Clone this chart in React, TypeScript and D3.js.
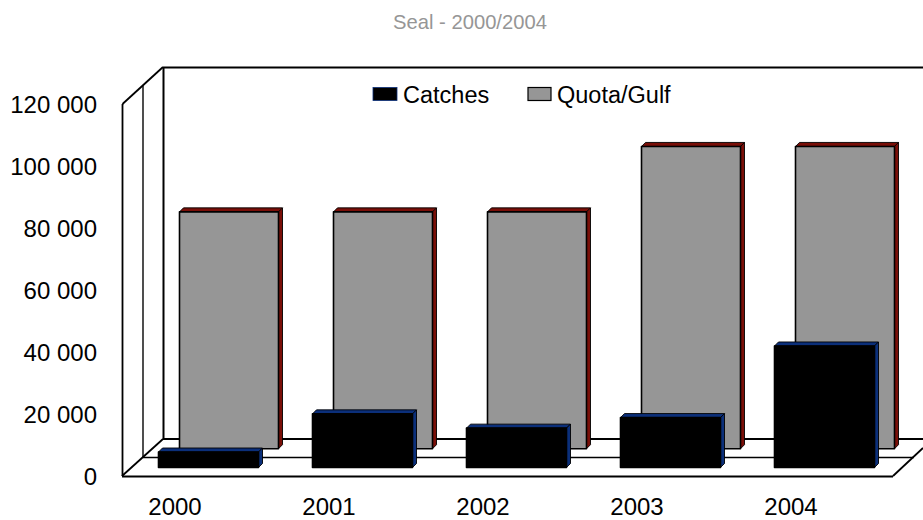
import React from "react";
import * as d3 from "d3";

const years = ["2000", "2001", "2002", "2003", "2004"];
const catches = [5000, 17300, 12700, 16100, 39200];
const quota = [76400, 76400, 76400, 97500, 97500];
const yTicks = [0, 20000, 40000, 60000, 80000, 100000, 120000];
const tickLabels = ["0", "20 000", "40 000", "60 000", "80 000", "100 000", "120 000"];

const W = 923, H = 520;
const frontBase = 476, frontTop = 104;
const y = d3.scaleLinear().domain([0, 120000]).range([frontBase, frontTop]);
const h = (v: number) => frontBase - y(v);
const xBand = d3.scaleBand<string>().domain(years).range([158.5, 928.5]).paddingInner(0).paddingOuter(0);
const catchW = 100, quotaW = 99, quotaOffset = 21;
const catchBase = 467.5, quotaBase = 448.7, d = 4;
const font = "'Liberation Sans', Arial, sans-serif";

function Bar({ x, base, height, width, fill, side }: { x: number; base: number; height: number; width: number; fill: string; side: string }) {
  const top = base - height;
  return (
    <g stroke="#000" strokeLinejoin="round">
      <path d={`M${x},${top} l${d},${-d} h${width} l${-d},${d} Z`} fill={side} strokeWidth={0.9} />
      <path d={`M${x + width},${top} l${d},${-d} V${base - d} l${-d},${d} Z`} fill={side} strokeWidth={0.9} />
      <rect x={x} y={top} width={width} height={height} fill={fill} strokeWidth={1.6} />
    </g>
  );
}

export default function App() {
  return (
    <svg width={W} height={H} style={{ position: "absolute", left: 0, top: 0, background: "#fff" }} fontFamily={font}>
      <text x={470} y={29} fontSize={20.2} fill="#969696" textAnchor="middle">Seal - 2000/2004</text>
      <g fill="none" stroke="#000">
        <path d="M163,67.5 H923" strokeWidth={2} />
        <path d="M163.5,67 V439" strokeWidth={2} />
        <path d="M122.5,104 V476" strokeWidth={1.8} />
        <path d="M143,85.5 V458" strokeWidth={1.6} stroke="#222" />
        <path d="M122.5,104 L163,67" strokeWidth={1.8} />
        <path d="M122,476 L163,439" strokeWidth={1.8} />
        <path d="M163,439 H923" strokeWidth={2} />
        <path d="M143,457.5 H914" strokeWidth={1.4} />
        <path d="M122,476.5 H893" strokeWidth={2} />
        <path d="M893,476 L923,448" strokeWidth={1.8} />
      </g>
      {years.map((yr, i) => (
        <Bar key={yr} x={xBand(yr)! + quotaOffset} base={quotaBase} height={h(quota[i])} width={quotaW} fill="#969696" side="#7a0f08" />
      ))}
      {years.map((yr, i) => (
        <Bar key={yr} x={xBand(yr)!} base={catchBase} height={h(catches[i])} width={catchW} fill="#000" side="#0b2f7a" />
      ))}
      {yTicks.map((t, i) => (
        <text key={t} x={97} y={y(t) + 8.5} fontSize={24} textAnchor="end" fill="#000">{tickLabels[i]}</text>
      ))}
      {years.map((yr) => (
        <text key={yr} x={xBand(yr)! + 16.5} y={515} fontSize={24} textAnchor="middle" fill="#000">{yr}</text>
      ))}
      <rect x={373} y={87.5} width={24} height={13} fill="#000" stroke="#0b2f7a" strokeWidth={0.8} />
      <text x={403} y={103} fontSize={23.5} fill="#000">Catches</text>
      <rect x={528} y={87.5} width={23} height={13} fill="#969696" stroke="#000" strokeWidth={1.2} />
      <text x={557} y={103} fontSize={23.5} fill="#000">Quota/Gulf</text>
    </svg>
  );
}
